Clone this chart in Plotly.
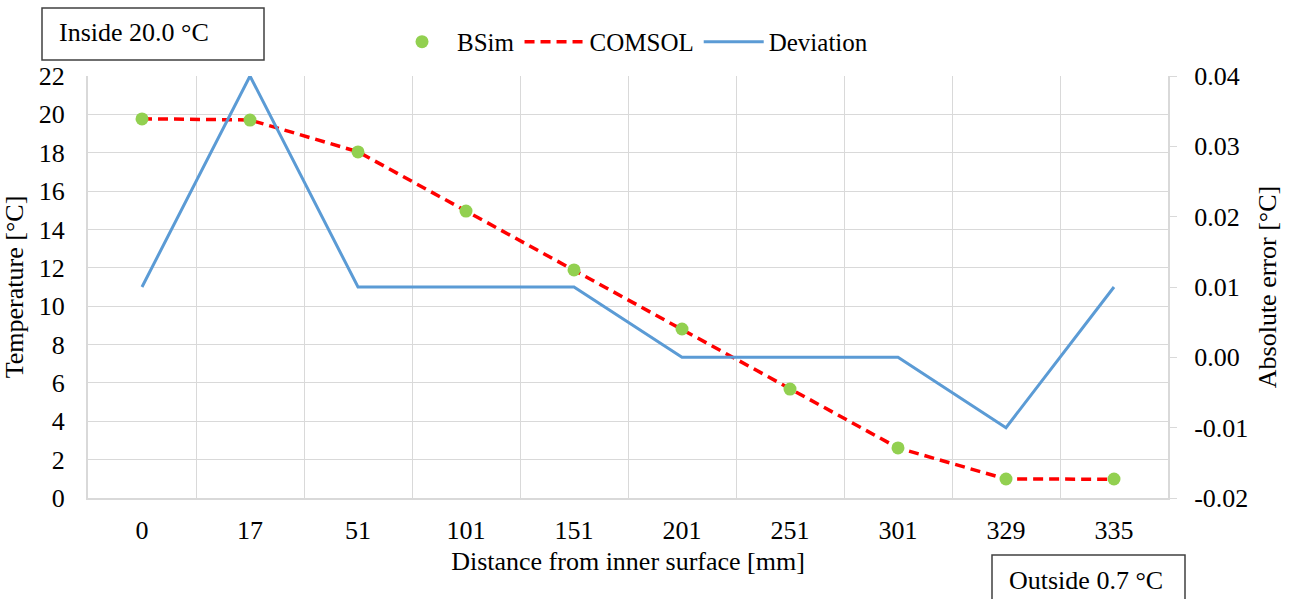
import plotly.graph_objects as go

distance = ["0", "17", "51", "101", "151", "201", "251", "301", "329", "335"]
bsim = [19.76, 19.70, 18.04, 14.96, 11.89, 8.81, 5.68, 2.61, 0.99, 0.99]
comsol = [19.77, 19.71, 18.05, 14.97, 11.88, 8.81, 5.68, 2.61, 0.99, 0.98]
deviation = [0.01, 0.04, 0.01, 0.01, 0.01, 0.00, 0.00, 0.00, -0.01, 0.01]
err_ticks = [-0.02, -0.01, 0.00, 0.01, 0.02, 0.03, 0.04]
err_labels = ["-0.02", "-0.01", "0.00", "0.01", "0.02", "0.03", "0.04"]

FONT = "Liberation Serif"
GRID = "#d9d9d9"
FS = 26
W, H = 1291, 599
L, R, T, B = 88, 1168, 76, 498


def px(x):
    return (x - L) / (R - L)


def py(y):
    return (B - y) / (B - T)


fig = go.Figure()
fig.add_trace(go.Scatter(x=distance, y=comsol, name="COMSOL", mode="lines",
                         legendrank=2,
                         line=dict(color="#ff0000", width=3.5, dash="10px,6px")))
fig.add_trace(go.Scatter(x=distance, y=deviation, name="Deviation", mode="lines",
                         legendrank=3,
                         line=dict(color="#5b9bd5", width=3), yaxis="y2"))
fig.add_trace(go.Scatter(x=distance, y=bsim, name="BSim", mode="markers",
                         legendrank=1,
                         marker=dict(color="#92d050", size=13)))

fig.update_layout(
    width=W, height=H,
    margin=dict(l=L, r=W - R, t=T, b=H - B, autoexpand=False),
    paper_bgcolor="white", plot_bgcolor="white",
    font=dict(family=FONT, size=FS, color="#000000"),
    showlegend=True,
    legend=dict(orientation="h", xref="container", yref="container",
                x=0.488, y=0.93, xanchor="center", yanchor="middle",
                font=dict(size=25), itemwidth=60,
                bgcolor="rgba(0,0,0,0)"),
    xaxis=dict(type="category", tickson="boundaries", range=[-0.5, 9.5],
               showgrid=True, gridcolor=GRID, gridwidth=1, showline=True,
               linecolor=GRID, linewidth=2, ticks="", tickfont=dict(size=FS),
               ticklabelstandoff=8,
               title=dict(text="Distance from inner surface [mm]",
                          font=dict(size=FS), standoff=8)),
    yaxis=dict(range=[0, 22], dtick=2, showgrid=True, gridcolor=GRID,
               gridwidth=1, showline=True, linecolor=GRID, linewidth=2,
               ticks="", zeroline=False, tickfont=dict(size=FS),
               ticklabelstandoff=16,
               title=dict(text="Temperature [°C]", font=dict(size=FS),
                          standoff=24)),
    yaxis2=dict(range=[-0.02, 0.04], tickvals=err_ticks, ticktext=err_labels,
                overlaying="y", side="right", showgrid=False,
                showline=True, linecolor=GRID, linewidth=2,
                ticks="outside", ticklen=7, tickcolor=GRID,
                ticklabelstandoff=12,
                zeroline=False, tickfont=dict(size=FS),
                title=dict(text="Absolute error [°C]", font=dict(size=FS),
                           standoff=10)),
)

# text boxes
fig.add_shape(type="rect", xref="paper", yref="paper",
              x0=px(42), x1=px(264), y0=py(60), y1=py(8),
              line=dict(color="#404040", width=1.5), fillcolor="white",
              layer="above")
fig.add_annotation(xref="paper", yref="paper", x=px(57), y=py(32),
                   text="Inside 20.0 °C", showarrow=False,
                   xanchor="left", yanchor="middle", font=dict(size=FS))
fig.add_shape(type="rect", xref="paper", yref="paper",
              x0=px(992), x1=px(1185), y0=py(610), y1=py(555),
              line=dict(color="#404040", width=1.5), fillcolor="white",
              layer="above")
fig.add_annotation(xref="paper", yref="paper", x=px(1007), y=py(580),
                   text="Outside 0.7 °C", showarrow=False,
                   xanchor="left", yanchor="middle", font=dict(size=FS))

fig.write_html("out.html")
